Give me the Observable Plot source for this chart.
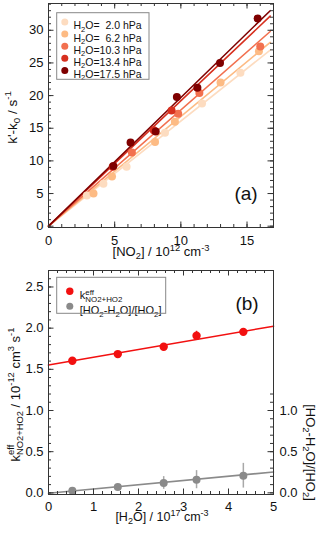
<!DOCTYPE html>
<html>
<head>
<meta charset="utf-8">
<script src="https://cdn.jsdelivr.net/npm/d3@7"></script>
<script src="https://cdn.jsdelivr.net/npm/@observablehq/plot@0.6"></script>
<style>
  body { margin: 0; background: #fff; }
  #chart { width: 320px; }
  #chart svg { display: block; }
</style>
</head>
<body>
<div id="chart"></div>
<script>
// ---------- Panel (a) data ----------
const seriesA = ["2.0", "6.2", "10.3", "13.4", "17.5"];
const colorsA = ["#fddcc0", "#fdbb84", "#f2704f", "#d7301f", "#7f0000"];
const legendA = ["H_{2}O=\u00a0\u00a02.0 hPa", "H_{2}O=\u00a0\u00a06.2 hPa", "H_{2}O=10.3 hPa", "H_{2}O=13.4 hPa", "H_{2}O=17.5 hPa"];

const no2_20 = [2.9, 4.15, 5.9, 8.8, 11.6, 14.5];
const k_20   = [4.7, 6.5, 9.1, 14.3, 18.8, 23.5];
const no2_62 = [3.4, 4.8, 8.05, 9.55, 13.0, 15.9];
const k_62   = [5.0, 7.6, 12.9, 16.0, 22.0, 26.8];
const no2_103 = [6.3, 9.8, 11.4, 16.0];
const k_103   = [11.3, 17.2, 20.4, 27.5];
const no2_134 = [4.85, 7.95, 9.3];
const k_134   = [9.1, 14.7, 17.7];
const no2_175 = [4.9, 6.2, 8.1, 9.7, 11.25, 12.96, 15.8];
const k_175   = [9.2, 12.8, 14.5, 19.8, 21.2, 25.0, 31.8];

const fitSlopeA = [1.61, 1.68, 1.78, 1.92, 1.97];
const fitXEndA = 16.75;

const xTicksA = [0, 5, 10, 15];
const yTicksA = [0, 5, 10, 15, 20, 25, 30];
const xMinorA = d3.range(0, 17, 1);
const yMinorA = d3.range(0, 35, 1);

// ---------- Panel (b) data ----------
const h2o = [0.53, 1.54, 2.56, 3.29, 4.33];
const keff = [1.604, 1.685, 1.774, 1.907, 1.955];
const keffErr = [0.02, 0.02, 0.02, 0.055, 0.02];
const ratio = [0.027, 0.071, 0.12, 0.16, 0.208];
const ratioErr = [0.02, 0.03, 0.077, 0.11, 0.15];
const keffFit = [1.552, 2.024];   // at x = 0 and x = 5
const ratioFit = [-0.005, 0.253]; // at x = 0 and x = 5
const fitXB = [0, 5];

const xTicksB = [0, 1, 2, 3, 4, 5];
const yTicksB = [0, 0.5, 1.0, 1.5, 2.0, 2.5];
const yTicksBRight = [0, 0.5, 1.0];
const xMinorB = d3.range(0, 5.01, 0.2);
const yMinorB = d3.range(0, 2.71, 0.1);
const yMinorBRight = d3.range(0, 1.21, 0.1);

// ---------- build tables ----------
const ptsA = [];
[[no2_20, k_20], [no2_62, k_62], [no2_103, k_103], [no2_134, k_134], [no2_175, k_175]].forEach(([xs, ys], i) => {
  xs.forEach((x, j) => ptsA.push({s: seriesA[i], x, y: ys[j]}));
});
const fitA = [];
fitSlopeA.forEach((m, i) => {
  fitA.push({s: seriesA[i], x: 0, y: 0});
  fitA.push({s: seriesA[i], x: fitXEndA, y: m * fitXEndA});
});
const ptsB = h2o.map((x, i) => ({x, k: keff[i], ke: keffErr[i], r: ratio[i], re: ratioErr[i]}));
const fitBk = fitXB.map((x, i) => ({x, y: keffFit[i]}));
const fitBr = fitXB.map((x, i) => ({x, y: ratioFit[i]}));

const FONT = "'Liberation Sans', Arial, Helvetica, sans-serif";
const AX = "#333";
const FH = 224; // frame heights
const FW = 225; // frame width
const TICKFS = 13;

function frameTicks(xMajor, xMinor, yMajor, yMinor, opts = {}) {
  const M = 5.5, m = 3;
  const marks = [
    Plot.tickX(xMinor, {x: d => d, insetTop: FH - m, stroke: AX}),
    Plot.tickX(xMajor, {x: d => d, insetTop: FH - M, stroke: AX}),
    Plot.tickX(xMinor, {x: d => d, insetBottom: FH - m, stroke: AX}),
    Plot.tickX(xMajor, {x: d => d, insetBottom: FH - M, stroke: AX}),
    Plot.tickY(yMinor, {y: d => d, insetRight: FW - m, stroke: AX}),
    Plot.tickY(yMajor, {y: d => d, insetRight: FW - M, stroke: AX}),
  ];
  const yMinR = opts.yMinorRight || yMinor, yMajR = opts.yMajorRight || yMajor;
  marks.push(Plot.tickY(yMinR, {y: d => d, insetLeft: FW - m, stroke: AX}));
  marks.push(Plot.tickY(yMajR, {y: d => d, insetLeft: FW - M, stroke: AX}));
  return marks;
}

// ---------- Panel (a) ----------
const plotA = Plot.plot({
  width: 320, height: 265,
  marginLeft: 48, marginRight: 47, marginTop: 3, marginBottom: 38,
  x: {domain: [0, 17]},
  y: {domain: [-0.2, 34.1]},
  color: {domain: seriesA, range: colorsA},
  style: {fontFamily: FONT, fontSize: "13px", color: "#111", background: "#fff"},
  marks: [
    Plot.line(fitA, {x: "x", y: "y", z: "s", stroke: "s", strokeWidth: 1.6}),
    Plot.dot(ptsA, {x: "x", y: "y", fill: "s", r: 4}),
    ...frameTicks(xTicksA, xMinorA, yTicksA, yMinorA),
    Plot.frame({stroke: AX}),
    Plot.axisX({ticks: xTicksA, tickFormat: d => String(d), tickSize: 0, tickPadding: 8, label: null, fontSize: TICKFS}),
    Plot.axisY({ticks: yTicksA, tickFormat: d => String(d), tickSize: 0, tickPadding: 5, label: null, fontSize: TICKFS}),
    Plot.text(["[NO_{2}] / 10^{12} cm^{-3}"], {frameAnchor: "bottom", dy: 28.5, textAnchor: "middle", fontSize: 13, text: d => d}),
    Plot.text(["k'-k_{0} / s^{-1}"], {frameAnchor: "left", dx: -36, dy: 2, rotate: -90, textAnchor: "middle", fontSize: 13.5, text: d => d}),
    Plot.text(["(a)"], {frameAnchor: "bottom-right", dx: -27.5, dy: -28, textAnchor: "middle", fontSize: 19, text: d => d}),
    ...seriesA.map((s, i) => Plot.dot([s], {frameAnchor: "top-left", dx: 16.3, dy: 18.5 + 12.1 * i, r: 3.5, fill: colorsA[i]})),
    ...seriesA.map((s, i) => Plot.text([legendA[i]], {frameAnchor: "top-left", dx: 25, dy: 18.5 + 12.1 * i, textAnchor: "start", fontSize: 10.5, text: d => d}))
  ]
});

// ---------- Panel (b) ----------
const RED = "#f21010", GRAY = "#8a8a8a";
const plotB = Plot.plot({
  width: 320, height: 269,
  marginLeft: 48, marginRight: 47, marginTop: 5, marginBottom: 40,
  x: {domain: [0, 5]},
  y: {domain: [-0.02, 2.7]},
  style: {fontFamily: FONT, fontSize: "13px", color: "#111", background: "#fff"},
  marks: [
    Plot.line(fitBk, {x: "x", y: "y", stroke: RED, strokeWidth: 1.6}),
    Plot.line(fitBr, {x: "x", y: "y", stroke: GRAY, strokeWidth: 1.6}),
    Plot.ruleX(ptsB, {x: "x", y1: d => d.r - d.re, y2: d => d.r + d.re, stroke: "#a8a8a8", strokeWidth: 1.5}),
    Plot.dot(ptsB, {x: "x", y: "r", fill: GRAY, r: 4}),
    Plot.ruleX(ptsB, {x: "x", y1: d => d.k - d.ke, y2: d => d.k + d.ke, stroke: RED, strokeWidth: 1.5}),
    Plot.dot(ptsB, {x: "x", y: "k", fill: RED, r: 4.2}),
    ...frameTicks(xTicksB, xMinorB, yTicksB, yMinorB, {yMinorRight: yMinorBRight, yMajorRight: yTicksBRight}),
    Plot.frame({stroke: AX}),
    Plot.axisX({ticks: xTicksB, tickFormat: d => String(d), tickSize: 0, tickPadding: 7.5, label: null, fontSize: TICKFS}),
    Plot.axisY({anchor: "left", ticks: yTicksB, tickFormat: d3.format(".1f"), tickSize: 0, tickPadding: 5, label: null, fontSize: TICKFS}),
    Plot.axisY({anchor: "right", ticks: yTicksBRight, tickFormat: d3.format(".1f"), tickSize: 0, tickPadding: 6, label: null, fontSize: TICKFS}),
    Plot.text(["[H_{2}O] / 10^{17} cm^{-3}"], {frameAnchor: "bottom", dx: 1, dy: 26, textAnchor: "middle", fontSize: 12.5, text: d => d}),
    Plot.text(["k^_{eff}{NO2+HO2} / 10^{-12} cm^{3} s^{-1}"], {frameAnchor: "left", dx: -33, dy: 12, rotate: -90, textAnchor: "middle", fontSize: 13, text: d => d}),
    Plot.text(["[HO_{2}-H_{2}O]/[HO_{2}]"], {frameAnchor: "right", dx: 37, dy: 70, rotate: 90, textAnchor: "middle", fontSize: 13, text: d => d}),
    Plot.text(["(b)"], {frameAnchor: "top-right", dx: -26.5, dy: 25.5, textAnchor: "middle", fontSize: 19, text: d => d}),
    Plot.dot(["k"], {frameAnchor: "top-left", dx: 21.3, dy: 20.7, r: 3.7, fill: RED}),
    Plot.dot(["r"], {frameAnchor: "top-left", dx: 21.3, dy: 35.7, r: 3.5, fill: GRAY}),
    Plot.text(["k^_{eff}{NO2+HO2}"], {frameAnchor: "top-left", dx: 31.3, dy: 20.7, textAnchor: "start", fontSize: 11, text: d => d}),
    Plot.text(["[HO_{2}-H_{2}O]/[HO_{2}]"], {frameAnchor: "top-left", dx: 31.3, dy: 35.7, textAnchor: "start", fontSize: 11, text: d => d})
  ]
});

const chart = document.getElementById("chart");
chart.appendChild(plotA);
chart.appendChild(plotB);

// legend boxes
d3.select(plotA).append("rect").attr("x", 56.7).attr("y", 12.7).attr("width", 92.3).attr("height", 66.6)
  .attr("fill", "none").attr("stroke", "#888");
d3.select(plotB).append("rect").attr("x", 56.7).attr("y", 12.3).attr("width", 109).attr("height", 36)
  .attr("fill", "none").attr("stroke", "#888");

// rich text: _{sub}, ^{sup}, ^_{sup}{sub}
function richify(svg) {
  const NS = "http://www.w3.org/2000/svg";
  d3.select(svg).selectAll("text").each(function () {
    const el = this;
    const s = el.textContent;
    if (!/[_^]\{/.test(s)) return;
    const fs = parseFloat(getComputedStyle(el).fontSize) || 12;
    while (el.firstChild) el.removeChild(el.firstChild);
    let cur = 0;
    const add = (txt, off, small, dx) => {
      const t = document.createElementNS(NS, "tspan");
      t.textContent = txt;
      const dy = off - cur;
      if (Math.abs(dy) > 1e-6) t.setAttribute("dy", dy.toFixed(2));
      cur = off;
      if (small) t.setAttribute("font-size", (fs * 0.72).toFixed(2));
      if (dx) t.setAttribute("dx", dx.toFixed(2));
      el.appendChild(t);
      return t;
    };
    const re = /\^_\{([^}]*)\}\{([^}]*)\}|\^\{([^}]*)\}|_\{([^}]*)\}|([^_^]+)/g;
    let m;
    while ((m = re.exec(s))) {
      if (m[1] !== undefined) {
        const a = add(m[1], -0.4 * fs, true);
        const w = a.getComputedTextLength();
        add(m[2], 0.25 * fs, true, -w);
      } else if (m[3] !== undefined) add(m[3], -0.4 * fs, true);
      else if (m[4] !== undefined) add(m[4], 0.25 * fs, true);
      else add(m[5], 0, false);
    }
  });
}
richify(plotA);
richify(plotB);
</script>
</body>
</html>
